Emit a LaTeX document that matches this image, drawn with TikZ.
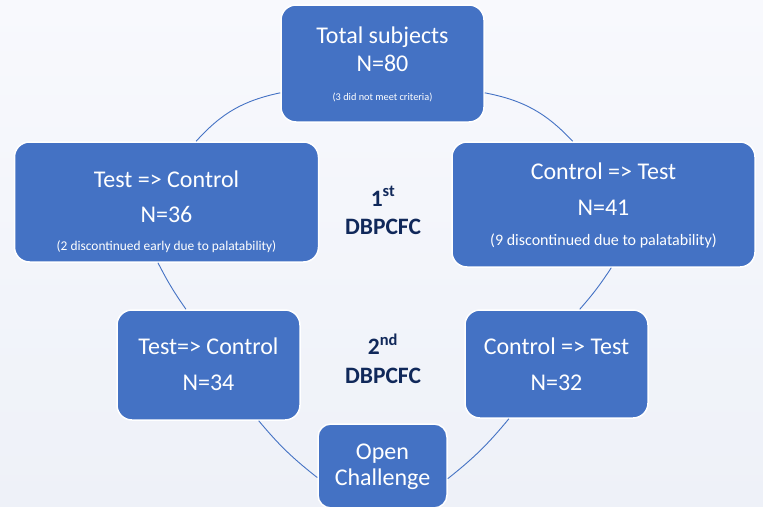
\documentclass[tikz,border=0pt]{standalone}
\usepackage{fontspec}
\setmainfont{Carlito}
\usetikzlibrary{calc}
\definecolor{boxblue}{HTML}{4472C4}
\definecolor{navy}{HTML}{10285A}
\definecolor{bgtop}{HTML}{F8F9FD}
\definecolor{bgbot}{HTML}{EEF1F8}
\begin{document}
\begin{tikzpicture}[x=1pt,y=-1pt,
  box/.style={draw=white, line width=1.5pt, fill=boxblue, rounded corners=15pt, inner sep=0pt},
  conn/.style={draw=boxblue, line width=0.9pt},
  big/.style={text=white, font=\fontsize{24}{28}\selectfont, anchor=base, inner sep=0pt},
  note/.style={text=white, anchor=base, inner sep=0pt},
  phase/.style={text=navy, font=\bfseries\fontsize{23.5}{27}\selectfont, anchor=base, inner sep=0pt}
]
\shade[top color=bgtop, bottom color=bgbot] (0,0) rectangle (763,506);
\useasboundingbox (0,0) rectangle (763,506);
\clip (0,0) rectangle (763,506);

% boxes
\node[box, minimum width=203pt, minimum height=117pt] (T) at (382.5,63.5) {};
\node[box, minimum width=304pt, minimum height=120pt] (L) at (166.5,202) {};
\node[box, minimum width=303pt, minimum height=125pt] (R) at (603.5,204.5) {};
\node[box, minimum width=183pt, minimum height=110pt] (LL) at (208.5,365) {};
\node[box, minimum width=183pt, minimum height=108pt] (LR) at (556.5,364) {};
\node[box, minimum width=129pt, minimum height=84pt, rounded corners=13pt] (B) at (382.5,466) {};

% connectors (cycle arcs)
\draw[conn] (T.196) to[bend right=18] (L.64);
\draw[conn] (L.262) to[bend right=4] (LL.112);
\draw[conn] (LL.312) to[bend right=6] (B.190);
\draw[conn] (B.349) to[bend right=6] (LR.229);
\draw[conn] (LR.67) to[bend right=4] (R.277);
\draw[conn] (R.116) to[bend right=18] (T.344);

% texts
\node[big] (t1) at ($(T)+(0,-20.5)$) {Total subjects};
\node[big] (t2) at ($(T)+(0,7.5)$) {N=80};
\node[note, font=\fontsize{10.3}{12}\selectfont] (t3) at ($(T)+(0,36.5)$) {(3 did not meet criteria)};

\node[big] (l1) at ($(L)+(0,-14.7)$) {Test => Control};
\node[big] (l2) at ($(L)+(0,20.7)$) {N=36};
\node[note, font=\fontsize{13.4}{15}\selectfont] (l3) at ($(L)+(0,48.7)$) {(2 discontinued early due to palatability)};

\node[big] (r1) at ($(R)+(0,-25.2)$) {Control => Test};
\node[big] (r2) at ($(R)+(0,10.5)$) {N=41};
\node[note, font=\fontsize{16}{18}\selectfont] (r3) at ($(R)+(0,40.5)$) {(9 discontinued due to palatability)};

\node[big] (ll1) at ($(LL)+(0,-11)$) {Test=> Control};
\node[big] (ll2) at ($(LL)+(0,25.7)$) {N=34};

\node[big] (lr1) at ($(LR)+(0,-10)$) {Control => Test};
\node[big] (lr2) at ($(LR)+(0,26.7)$) {N=32};

\node[big] (b1) at ($(B)+(0,-6.7)$) {Open};
\node[big] (b2) at ($(B)+(0,19)$) {Challenge};

\node[phase] (p1) at (383,206) {1\textsuperscript{st}};
\node[phase] (p2) at (383,234.3) {DBPCFC};
\node[phase] (p3) at (383,354.3) {2\textsuperscript{nd}};
\node[phase] (p4) at (383,383.3) {DBPCFC};
\end{tikzpicture}
\end{document}
